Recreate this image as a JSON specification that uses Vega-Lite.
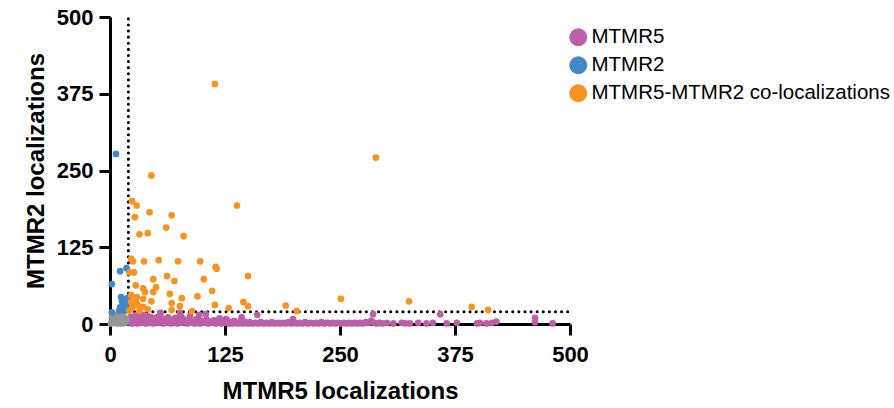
{
  "$schema": "https://vega.github.io/schema/vega-lite/v6.json",
  "width": 460,
  "height": 307,
  "autosize": {"type": "none"},
  "padding": {"left": 110, "top": 17, "right": 324, "bottom": 84},
  "config": {
    "view": {"stroke": null},
    "font": "Liberation Sans",
    "axis": {
      "domainColor": "black", "domainWidth": 3, "tickColor": "black", "tickWidth": 3, "tickSize": 11,
      "labelFont": "Liberation Sans", "labelFontSize": 22, "labelFontWeight": "bold", "labelColor": "black",
      "titleFont": "Liberation Sans", "titleFontSize": 24, "titleFontWeight": "bold", "titleColor": "black",
      "labelFlush": false, "grid": false
    }
  },
  "datasets": {
    "cuts": [
      {"x": 20, "x2": 20, "y": 20, "y2": 500},
      {"x": 20, "x2": 500, "y": 20, "y2": 20}
    ],
    "pts": [
      {"x":21,"y":3,"g":"MTMR5"},{"x":22,"y":8,"g":"MTMR5"},{"x":23,"y":12,"g":"MTMR5"},{"x":24,"y":1,"g":"MTMR5"},{"x":25,"y":5,"g":"MTMR5"},{"x":26,"y":10,"g":"MTMR5"},{"x":27,"y":2,"g":"MTMR5"},{"x":28,"y":14,"g":"MTMR5"},{"x":29,"y":6,"g":"MTMR5"},{"x":30,"y":1,"g":"MTMR5"},{"x":31,"y":9,"g":"MTMR5"},{"x":32,"y":4,"g":"MTMR5"},{"x":33,"y":12,"g":"MTMR5"},{"x":34,"y":2,"g":"MTMR5"},{"x":35,"y":7,"g":"MTMR5"},{"x":36,"y":15,"g":"MTMR5"},{"x":37,"y":3,"g":"MTMR5"},{"x":38,"y":10,"g":"MTMR5"},{"x":39,"y":1,"g":"MTMR5"},{"x":40,"y":6,"g":"MTMR5"},{"x":41,"y":13,"g":"MTMR5"},{"x":42,"y":4,"g":"MTMR5"},{"x":43,"y":8,"g":"MTMR5"},{"x":44,"y":2,"g":"MTMR5"},{"x":45,"y":11,"g":"MTMR5"},{"x":46,"y":5,"g":"MTMR5"},{"x":47,"y":1,"g":"MTMR5"},{"x":48,"y":9,"g":"MTMR5"},{"x":49,"y":3,"g":"MTMR5"},{"x":50,"y":7,"g":"MTMR5"},{"x":52,"y":12,"g":"MTMR5"},{"x":53,"y":2,"g":"MTMR5"},{"x":55,"y":18,"g":"MTMR5"},{"x":55,"y":5,"g":"MTMR5"},{"x":56,"y":9,"g":"MTMR5"},{"x":58,"y":1,"g":"MTMR5"},{"x":59,"y":4,"g":"MTMR5"},{"x":60,"y":8,"g":"MTMR5"},{"x":62,"y":2,"g":"MTMR5"},{"x":63,"y":11,"g":"MTMR5"},{"x":65,"y":5,"g":"MTMR5"},{"x":66,"y":1,"g":"MTMR5"},{"x":68,"y":7,"g":"MTMR5"},{"x":70,"y":3,"g":"MTMR5"},{"x":71,"y":10,"g":"MTMR5"},{"x":73,"y":1,"g":"MTMR5"},{"x":75,"y":5,"g":"MTMR5"},{"x":76,"y":18,"g":"MTMR5"},{"x":77,"y":13,"g":"MTMR5"},{"x":78,"y":2,"g":"MTMR5"},{"x":80,"y":8,"g":"MTMR5"},{"x":82,"y":4,"g":"MTMR5"},{"x":84,"y":1,"g":"MTMR5"},{"x":86,"y":6,"g":"MTMR5"},{"x":87,"y":13,"g":"MTMR5"},{"x":88,"y":2,"g":"MTMR5"},{"x":90,"y":4,"g":"MTMR5"},{"x":92,"y":1,"g":"MTMR5"},{"x":94,"y":8,"g":"MTMR5"},{"x":96,"y":3,"g":"MTMR5"},{"x":97,"y":15,"g":"MTMR5"},{"x":98,"y":1,"g":"MTMR5"},{"x":100,"y":5,"g":"MTMR5"},{"x":102,"y":2,"g":"MTMR5"},{"x":104,"y":16,"g":"MTMR5"},{"x":105,"y":7,"g":"MTMR5"},{"x":107,"y":1,"g":"MTMR5"},{"x":109,"y":4,"g":"MTMR5"},{"x":111,"y":2,"g":"MTMR5"},{"x":113,"y":6,"g":"MTMR5"},{"x":115,"y":1,"g":"MTMR5"},{"x":117,"y":3,"g":"MTMR5"},{"x":119,"y":9,"g":"MTMR5"},{"x":121,"y":1,"g":"MTMR5"},{"x":123,"y":4,"g":"MTMR5"},{"x":125,"y":2,"g":"MTMR5"},{"x":126,"y":8,"g":"MTMR5"},{"x":127,"y":6,"g":"MTMR5"},{"x":129,"y":1,"g":"MTMR5"},{"x":131,"y":3,"g":"MTMR5"},{"x":133,"y":1,"g":"MTMR5"},{"x":135,"y":5,"g":"MTMR5"},{"x":137,"y":2,"g":"MTMR5"},{"x":139,"y":1,"g":"MTMR5"},{"x":141,"y":3,"g":"MTMR5"},{"x":143,"y":11,"g":"MTMR5"},{"x":144,"y":1,"g":"MTMR5"},{"x":146,"y":4,"g":"MTMR5"},{"x":148,"y":2,"g":"MTMR5"},{"x":150,"y":1,"g":"MTMR5"},{"x":152,"y":3,"g":"MTMR5"},{"x":155,"y":1,"g":"MTMR5"},{"x":158,"y":2,"g":"MTMR5"},{"x":160,"y":15,"g":"MTMR5"},{"x":161,"y":1,"g":"MTMR5"},{"x":164,"y":3,"g":"MTMR5"},{"x":167,"y":1,"g":"MTMR5"},{"x":170,"y":2,"g":"MTMR5"},{"x":173,"y":1,"g":"MTMR5"},{"x":176,"y":3,"g":"MTMR5"},{"x":179,"y":1,"g":"MTMR5"},{"x":182,"y":2,"g":"MTMR5"},{"x":185,"y":1,"g":"MTMR5"},{"x":188,"y":2,"g":"MTMR5"},{"x":191,"y":1,"g":"MTMR5"},{"x":194,"y":3,"g":"MTMR5"},{"x":197,"y":1,"g":"MTMR5"},{"x":199,"y":8,"g":"MTMR5"},{"x":200,"y":2,"g":"MTMR5"},{"x":203,"y":1,"g":"MTMR5"},{"x":206,"y":2,"g":"MTMR5"},{"x":209,"y":1,"g":"MTMR5"},{"x":212,"y":3,"g":"MTMR5"},{"x":215,"y":1,"g":"MTMR5"},{"x":218,"y":2,"g":"MTMR5"},{"x":221,"y":1,"g":"MTMR5"},{"x":224,"y":2,"g":"MTMR5"},{"x":227,"y":1,"g":"MTMR5"},{"x":230,"y":3,"g":"MTMR5"},{"x":233,"y":1,"g":"MTMR5"},{"x":236,"y":2,"g":"MTMR5"},{"x":239,"y":1,"g":"MTMR5"},{"x":242,"y":2,"g":"MTMR5"},{"x":245,"y":1,"g":"MTMR5"},{"x":248,"y":2,"g":"MTMR5"},{"x":251,"y":1,"g":"MTMR5"},{"x":254,"y":2,"g":"MTMR5"},{"x":257,"y":1,"g":"MTMR5"},{"x":260,"y":2,"g":"MTMR5"},{"x":263,"y":1,"g":"MTMR5"},{"x":266,"y":2,"g":"MTMR5"},{"x":269,"y":1,"g":"MTMR5"},{"x":272,"y":2,"g":"MTMR5"},{"x":275,"y":1,"g":"MTMR5"},{"x":278,"y":3,"g":"MTMR5"},{"x":281,"y":2,"g":"MTMR5"},{"x":284,"y":5,"g":"MTMR5"},{"x":286,"y":16,"g":"MTMR5"},{"x":287,"y":2,"g":"MTMR5"},{"x":290,"y":1,"g":"MTMR5"},{"x":293,"y":2,"g":"MTMR5"},{"x":296,"y":1,"g":"MTMR5"},{"x":301,"y":2,"g":"MTMR5"},{"x":308,"y":1,"g":"MTMR5"},{"x":317,"y":2,"g":"MTMR5"},{"x":321,"y":1,"g":"MTMR5"},{"x":326,"y":1,"g":"MTMR5"},{"x":335,"y":2,"g":"MTMR5"},{"x":344,"y":1,"g":"MTMR5"},{"x":351,"y":2,"g":"MTMR5"},{"x":359,"y":16,"g":"MTMR5"},{"x":366,"y":1,"g":"MTMR5"},{"x":377,"y":2,"g":"MTMR5"},{"x":399,"y":1,"g":"MTMR5"},{"x":402,"y":2,"g":"MTMR5"},{"x":409,"y":1,"g":"MTMR5"},{"x":415,"y":2,"g":"MTMR5"},{"x":420,"y":4,"g":"MTMR5"},{"x":462,"y":3,"g":"MTMR5"},{"x":462,"y":10,"g":"MTMR5"},{"x":481,"y":1,"g":"MTMR5"},
      {"x":1,"y":1,"g":"None"},{"x":3,"y":5,"g":"None"},{"x":5,"y":2,"g":"None"},{"x":7,"y":8,"g":"None"},{"x":9,"y":3,"g":"None"},{"x":11,"y":6,"g":"None"},{"x":13,"y":1,"g":"None"},{"x":15,"y":4,"g":"None"},{"x":17,"y":9,"g":"None"},{"x":2,"y":12,"g":"None"},{"x":6,"y":14,"g":"None"},{"x":10,"y":11,"g":"None"},{"x":14,"y":13,"g":"None"},{"x":16,"y":2,"g":"None"},{"x":18,"y":6,"g":"None"},{"x":4,"y":9,"g":"None"},{"x":8,"y":1,"g":"None"},{"x":12,"y":16,"g":"None"},{"x":3,"y":17,"g":"None"},
      {"x":6.5,"y":277,"g":"MTMR2"},{"x":11,"y":86,"g":"MTMR2"},{"x":18,"y":91,"g":"MTMR2"},{"x":2,"y":65,"g":"MTMR2"},{"x":12,"y":44,"g":"MTMR2"},{"x":14,"y":40,"g":"MTMR2"},{"x":16,"y":35,"g":"MTMR2"},{"x":11,"y":27,"g":"MTMR2"},{"x":14,"y":29,"g":"MTMR2"},{"x":17,"y":31,"g":"MTMR2"},{"x":19,"y":33,"g":"MTMR2"},{"x":2,"y":19,"g":"MTMR2"},{"x":15,"y":24,"g":"MTMR2"},{"x":18,"y":26,"g":"MTMR2"},{"x":10,"y":22,"g":"MTMR2"},{"x":13,"y":37,"g":"MTMR2"},{"x":19,"y":42,"g":"MTMR2"},{"x":17,"y":22,"g":"MTMR2"},
      {"x":114,"y":391,"g":"MTMR5-MTMR2 co-localizations"},{"x":289,"y":271,"g":"MTMR5-MTMR2 co-localizations"},{"x":138,"y":193,"g":"MTMR5-MTMR2 co-localizations"},{"x":45,"y":242,"g":"MTMR5-MTMR2 co-localizations"},{"x":24,"y":200,"g":"MTMR5-MTMR2 co-localizations"},{"x":29,"y":193,"g":"MTMR5-MTMR2 co-localizations"},{"x":43,"y":182,"g":"MTMR5-MTMR2 co-localizations"},{"x":67,"y":177,"g":"MTMR5-MTMR2 co-localizations"},{"x":27,"y":174,"g":"MTMR5-MTMR2 co-localizations"},{"x":61,"y":157,"g":"MTMR5-MTMR2 co-localizations"},{"x":32,"y":146,"g":"MTMR5-MTMR2 co-localizations"},{"x":41,"y":148,"g":"MTMR5-MTMR2 co-localizations"},{"x":80,"y":143,"g":"MTMR5-MTMR2 co-localizations"},{"x":23,"y":106,"g":"MTMR5-MTMR2 co-localizations"},{"x":25,"y":102,"g":"MTMR5-MTMR2 co-localizations"},{"x":37,"y":102,"g":"MTMR5-MTMR2 co-localizations"},{"x":53,"y":104,"g":"MTMR5-MTMR2 co-localizations"},{"x":74,"y":102,"g":"MTMR5-MTMR2 co-localizations"},{"x":98,"y":102,"g":"MTMR5-MTMR2 co-localizations"},{"x":115,"y":93,"g":"MTMR5-MTMR2 co-localizations"},{"x":116,"y":90,"g":"MTMR5-MTMR2 co-localizations"},{"x":21,"y":84,"g":"MTMR5-MTMR2 co-localizations"},{"x":26,"y":84,"g":"MTMR5-MTMR2 co-localizations"},{"x":62,"y":78,"g":"MTMR5-MTMR2 co-localizations"},{"x":150,"y":78,"g":"MTMR5-MTMR2 co-localizations"},{"x":47,"y":73,"g":"MTMR5-MTMR2 co-localizations"},{"x":70,"y":70,"g":"MTMR5-MTMR2 co-localizations"},{"x":102,"y":73,"g":"MTMR5-MTMR2 co-localizations"},{"x":28,"y":63,"g":"MTMR5-MTMR2 co-localizations"},{"x":50,"y":60,"g":"MTMR5-MTMR2 co-localizations"},{"x":36,"y":58,"g":"MTMR5-MTMR2 co-localizations"},{"x":47,"y":52,"g":"MTMR5-MTMR2 co-localizations"},{"x":38,"y":52,"g":"MTMR5-MTMR2 co-localizations"},{"x":111,"y":54,"g":"MTMR5-MTMR2 co-localizations"},{"x":65,"y":49,"g":"MTMR5-MTMR2 co-localizations"},{"x":23,"y":47,"g":"MTMR5-MTMR2 co-localizations"},{"x":29,"y":44,"g":"MTMR5-MTMR2 co-localizations"},{"x":78,"y":42,"g":"MTMR5-MTMR2 co-localizations"},{"x":95,"y":45,"g":"MTMR5-MTMR2 co-localizations"},{"x":36,"y":41,"g":"MTMR5-MTMR2 co-localizations"},{"x":45,"y":37,"g":"MTMR5-MTMR2 co-localizations"},{"x":67,"y":34,"g":"MTMR5-MTMR2 co-localizations"},{"x":26,"y":32,"g":"MTMR5-MTMR2 co-localizations"},{"x":30,"y":31,"g":"MTMR5-MTMR2 co-localizations"},{"x":76,"y":29,"g":"MTMR5-MTMR2 co-localizations"},{"x":114,"y":31,"g":"MTMR5-MTMR2 co-localizations"},{"x":145,"y":36,"g":"MTMR5-MTMR2 co-localizations"},{"x":150,"y":29,"g":"MTMR5-MTMR2 co-localizations"},{"x":129,"y":26,"g":"MTMR5-MTMR2 co-localizations"},{"x":89,"y":21,"g":"MTMR5-MTMR2 co-localizations"},{"x":67,"y":23,"g":"MTMR5-MTMR2 co-localizations"},{"x":41,"y":24,"g":"MTMR5-MTMR2 co-localizations"},{"x":24,"y":26,"g":"MTMR5-MTMR2 co-localizations"},{"x":36,"y":28,"g":"MTMR5-MTMR2 co-localizations"},{"x":191,"y":30,"g":"MTMR5-MTMR2 co-localizations"},{"x":203,"y":21,"g":"MTMR5-MTMR2 co-localizations"},{"x":251,"y":41,"g":"MTMR5-MTMR2 co-localizations"},{"x":325,"y":37,"g":"MTMR5-MTMR2 co-localizations"},{"x":393,"y":28,"g":"MTMR5-MTMR2 co-localizations"},{"x":411,"y":23,"g":"MTMR5-MTMR2 co-localizations"},{"x":21,"y":22,"g":"MTMR5-MTMR2 co-localizations"},{"x":23,"y":36,"g":"MTMR5-MTMR2 co-localizations"},{"x":32,"y":22,"g":"MTMR5-MTMR2 co-localizations"},{"x":28,"y":38,"g":"MTMR5-MTMR2 co-localizations"},{"x":33,"y":27,"g":"MTMR5-MTMR2 co-localizations"}
    ]
  },
  "layer": [
    {
      "data": {"name": "cuts"},
      "mark": {"type": "rule", "color": "black", "strokeWidth": 3, "strokeDash": [0.1, 6], "strokeCap": "round"},
      "encoding": {
        "x": {"field": "x", "type": "quantitative", "scale": {"domain": [0, 500]}},
        "x2": {"field": "x2"},
        "y": {"field": "y", "type": "quantitative", "scale": {"domain": [0, 500]}},
        "y2": {"field": "y2"}
      }
    },
    {
      "data": {"name": "pts"},
      "mark": {"type": "circle", "size": 45, "opacity": 1},
      "encoding": {
        "x": {"field": "x", "type": "quantitative", "scale": {"domain": [0, 500], "nice": false},
              "axis": {"values": [0, 125, 250, 375, 500], "title": "MTMR5 localizations", "labelPadding": 9, "titlePadding": 14}},
        "y": {"field": "y", "type": "quantitative", "scale": {"domain": [0, 500], "nice": false},
              "axis": {"values": [0, 125, 250, 375, 500], "title": "MTMR2 localizations", "labelPadding": 6, "titlePadding": 8}},
        "color": {
          "field": "g", "type": "nominal",
          "scale": {"domain": ["MTMR5", "MTMR2", "MTMR5-MTMR2 co-localizations", "None"],
                    "range": ["#BD5FA6", "#4088C8", "#F7931E", "#969696"]},
          "legend": {
            "values": ["MTMR5", "MTMR2", "MTMR5-MTMR2 co-localizations"],
            "title": null, "orient": "none", "legendX": 458, "legendY": 10,
            "symbolType": "circle", "symbolSize": 320, "symbolStrokeWidth": 0,
            "labelFont": "Liberation Sans", "labelFontSize": 20.5, "labelColor": "black",
            "labelOffset": 3, "rowPadding": 7, "labelLimit": 400
          }
        },
        "order": {"value": 0}
      }
    }
  ]
}
